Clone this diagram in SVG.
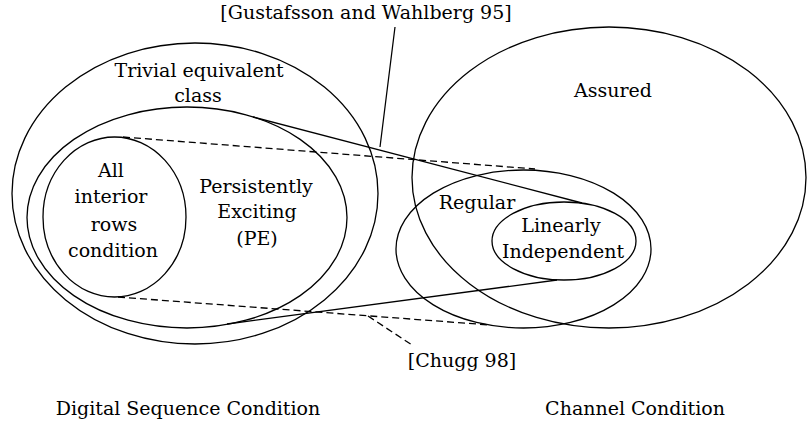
<svg xmlns="http://www.w3.org/2000/svg" width="807" height="427" viewBox="0 0 807 427">
<style>
.s{fill:none;stroke:#000;stroke-width:1.3}
.d{fill:none;stroke:#000;stroke-width:1.3;stroke-dasharray:7,4}
text{font-family:"DejaVu Serif","Liberation Serif",serif;font-size:19px;fill:#000;text-anchor:middle}
</style>
<rect width="807" height="427" fill="#fff"/>
<g id="trivial">
<ellipse class="s" cx="195" cy="193.5" rx="183" ry="150.5"/>
<text x="199" y="77">Trivial equivalent</text>
<text x="198" y="102">class</text>
</g>
<g id="pe">
<ellipse class="s" cx="187" cy="217.5" rx="160" ry="110.5"/>
<text x="256" y="193">Persistently</text>
<text x="257" y="218">Exciting</text>
<text x="257" y="245">(PE)</text>
</g>
<g id="allrows">
<ellipse class="s" cx="114.5" cy="217" rx="71.5" ry="80"/>
<text x="111" y="177">All</text>
<text x="111" y="203">interior</text>
<text x="114" y="231">rows</text>
<text x="113" y="257">condition</text>
</g>
<g id="assured">
<ellipse class="s" cx="609" cy="177.5" rx="197" ry="150.5"/>
<text x="613" y="97">Assured</text>
</g>
<g id="regular">
<ellipse class="s" cx="523.5" cy="249" rx="127.5" ry="79"/>
<text x="477" y="209">Regular</text>
</g>
<g id="linind">
<ellipse class="s" cx="564" cy="241" rx="72" ry="39"/>
<text x="561" y="232">Linearly</text>
<text x="563" y="258">Independent</text>
</g>
<g id="gustafsson">
<text x="366" y="19">[Gustafsson and Wahlberg 95]</text>
</g>
<g id="chugg">
<text x="462" y="367">[Chugg 98]</text>
</g>
<g id="labels">
<text x="188" y="415">Digital Sequence Condition</text>
<text x="635" y="415">Channel Condition</text>
</g>
<g id="connectors">
<line class="s" x1="253" y1="117" x2="582" y2="203"/>
<line class="s" x1="227" y1="324" x2="557" y2="280"/>
<line class="d" x1="123" y1="137" x2="535" y2="169"/>
<line class="d" x1="118" y1="297" x2="490" y2="325"/>
<line class="d" x1="368" y1="316" x2="412" y2="345"/>
<line class="s" x1="395" y1="27" x2="380" y2="147"/>
</g>
</svg>
